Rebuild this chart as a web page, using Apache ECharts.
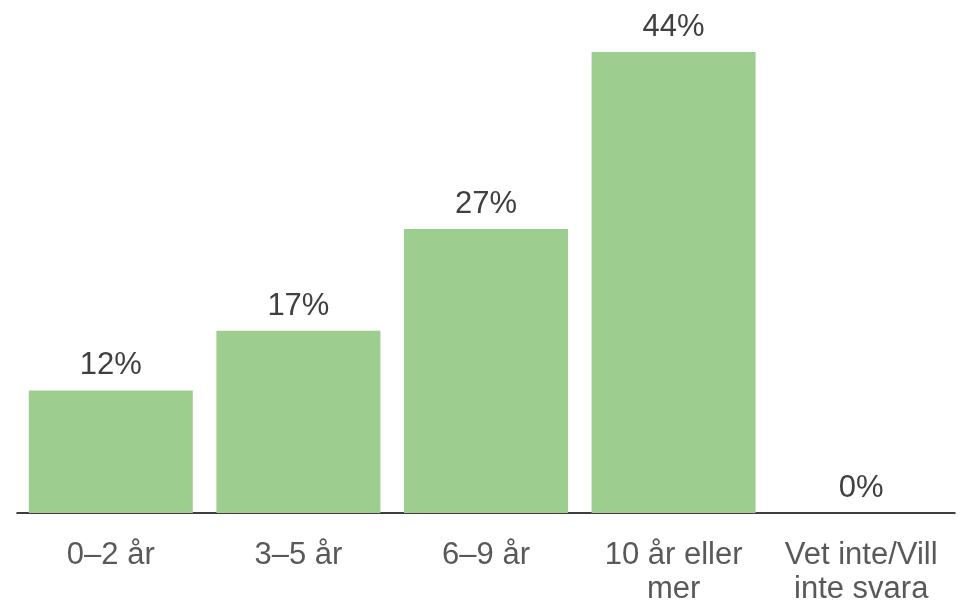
<!DOCTYPE html>
<html>
<head>
<meta charset="utf-8">
<script src="https://cdn.jsdelivr.net/npm/echarts@6/dist/echarts.min.js"></script>
<style>
html,body{margin:0;padding:0;background:#fff;}
#chart{width:962px;height:606px;}
</style>
</head>
<body>
<div id="chart"></div>
<script>
const categories = ['0–2 år', '3–5 år', '6–9 år', '10 år eller\nmer', 'Vet inte/Vill\ninte svara'];
const values = [11.7, 17.4, 27.1, 44.0, 0];

const chart = echarts.init(document.getElementById('chart'), null, {renderer: 'canvas'});
chart.setOption({
  animation: false,
  backgroundColor: '#ffffff',
  grid: {left: 17, right: 7, top: 10, bottom: 89, containLabel: false},
  xAxis: {
    type: 'category',
    data: categories,
    axisLine: {show: true, lineStyle: {color: '#000000', width: 1.5}},
    axisTick: {show: false},
    axisLabel: {
      color: '#595959',
      fontFamily: 'Liberation Sans, Arial, sans-serif',
      fontSize: 31,
      lineHeight: 34,
      margin: 25,
      interval: 0
    }
  },
  yAxis: {
    type: 'value',
    min: 0,
    max: 48,
    show: false,
    splitLine: {show: false}
  },
  series: [{
    type: 'bar',
    data: values,
    barWidth: 164,
    itemStyle: {color: '#9dcd8f'},
    label: {
      show: true,
      position: 'top',
      distance: 9,
      formatter: function (p) { return Math.round(p.value) + '%'; },
      color: '#404040',
      fontFamily: 'Liberation Sans, Arial, sans-serif',
      fontSize: 31
    }
  }]
});
</script>
</body>
</html>
